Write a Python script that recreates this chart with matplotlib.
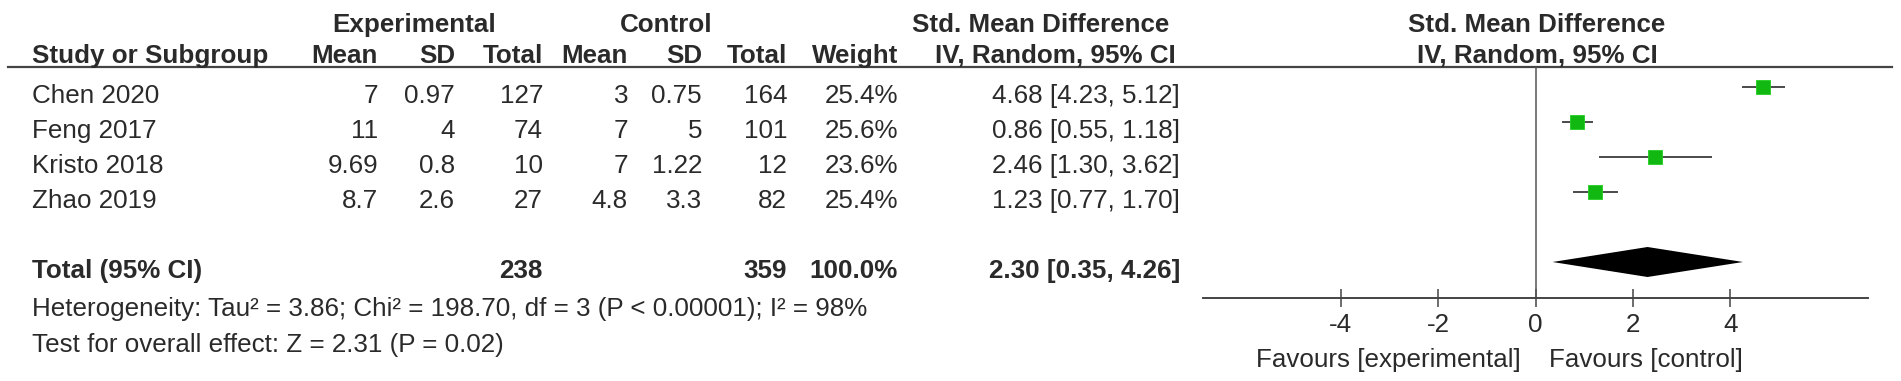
import matplotlib
matplotlib.use('Agg')
import matplotlib.pyplot as plt
import numpy as np

#%% data
studies = ['Chen 2020', 'Feng 2017', 'Kristo 2018', 'Zhao 2019']
exp_mean = [7, 11, 9.69, 8.7]
exp_sd = [0.97, 4, 0.8, 2.6]
exp_n = [127, 74, 10, 27]
ctrl_mean = [3, 7, 7, 4.8]
ctrl_sd = [0.75, 5, 1.22, 3.3]
ctrl_n = [164, 101, 12, 82]
weights = [25.4, 25.6, 23.6, 25.4]
smd = [4.68, 0.86, 2.46, 1.23]
ci_low = [4.23, 0.55, 1.30, 0.77]
ci_high = [5.12, 1.18, 3.62, 1.70]

total_exp_n = 238
total_ctrl_n = 359
total_weight = 100.0
total_smd = 2.30
total_low = 0.35
total_high = 4.26

heterogeneity = 'Heterogeneity: Tau² = 3.86; Chi² = 198.70, df = 3 (P < 0.00001); I² = 98%'
overall = 'Test for overall effect: Z = 2.31 (P = 0.02)'
xticks = [-4, -2, 0, 2, 4]


#%% style
plt.rcParams['font.family'] = ['Liberation Sans', 'DejaVu Sans']
txt_col = '#2a2a2a'
fs = 18.7
green = '#12b812'

W, H = 1901, 381
fig = plt.figure(figsize=(W / 100, H / 100), dpi=100)

# text layer in pixel units
ax_t = fig.add_axes([0, 0, 1, 1])
ax_t.set_xlim(0, W)
ax_t.set_ylim(H, 0)
ax_t.axis('off')

row0 = 87      # pixel y of first study row (marker centre)
row_h = 35     # row spacing
base_off = 16  # text baseline below marker centre
line_y = 67

def put(x, y, s, ha='right', bold=False):
    ax_t.text(x, y, s, ha=ha, va='baseline', fontsize=fs, color=txt_col,
              fontweight='bold' if bold else 'normal')

# header
put(414, 32, 'Experimental', ha='center', bold=True)
put(666, 32, 'Control', ha='center', bold=True)
put(1041, 32, 'Std. Mean Difference', ha='center', bold=True)
put(1537, 32, 'Std. Mean Difference', ha='center', bold=True)

cols = [378, 455, 543, 628, 702, 787, 898]
hdr = ['Mean', 'SD', 'Total', 'Mean', 'SD', 'Total', 'Weight']
put(32, 63, 'Study or Subgroup', ha='left', bold=True)
for x, h in zip(cols, hdr):
    put(x, 63, h, bold=True)
put(1055, 63, 'IV, Random, 95% CI', ha='center', bold=True)
put(1537, 63, 'IV, Random, 95% CI', ha='center', bold=True)

ax_t.plot([8, 1892], [line_y, line_y], color='#444444', lw=1.6)

# study rows
for i in range(len(studies)):
    y = row0 + i * row_h + base_off
    put(32, y, studies[i], ha='left')
    vals = ['{:g}'.format(exp_mean[i]), '{:g}'.format(exp_sd[i]), str(exp_n[i]),
            '{:g}'.format(ctrl_mean[i]), '{:g}'.format(ctrl_sd[i]), str(ctrl_n[i]),
            '{:.1f}%'.format(weights[i])]
    for x, v in zip(cols, vals):
        put(x, y, v)
    put(1180, y, '{:.2f} [{:.2f}, {:.2f}]'.format(smd[i], ci_low[i], ci_high[i]))

# total row
yt = row0 + 5 * row_h + base_off
put(32, yt, 'Total (95% CI)', ha='left', bold=True)
put(cols[2], yt, str(total_exp_n), bold=True)
put(cols[5], yt, str(total_ctrl_n), bold=True)
put(cols[6], yt, '{:.1f}%'.format(total_weight), bold=True)
put(1180, yt, '{:.2f} [{:.2f}, {:.2f}]'.format(total_smd, total_low, total_high), bold=True)

put(32, 316, heterogeneity, ha='left')
put(32, 352, overall, ha='left')

put(1521, 367, 'Favours [experimental]', ha='right')
put(1549, 367, 'Favours [control]', ha='left')


#%% forest panel
ax_left, ax_right = 1203, 1868
axis_y = 298
ax_f = fig.add_axes([ax_left / W, (H - axis_y) / H, (ax_right - ax_left) / W, (axis_y - line_y) / H])
ax_f.patch.set_alpha(0)
half = (ax_right - ax_left) / 2 / 48.7
ax_f.set_xlim(-half, half)
ax_f.set_ylim((axis_y - row0) / row_h, (line_y - row0) / row_h)

ax_f.axvline(0, color='#555555', lw=1.1)

rows = np.arange(len(studies))
ax_f.hlines(rows, ci_low, ci_high, color='#3c3c3c', lw=1.3)
ax_f.plot(smd, rows, 's', ms=10.5, color=green, mec='#1fcf1f', mew=0.6, ls='none')

# pooled diamond
yd = 5
hd = 15 / row_h
ax_f.fill([total_low, total_smd, total_high, total_smd],
          [yd, yd - hd, yd, yd + hd], color='black', lw=0)

for s in ['top', 'left', 'right']:
    ax_f.spines[s].set_visible(False)
ax_f.spines['bottom'].set_color('#444444')
ax_f.spines['bottom'].set_linewidth(1.4)
ax_f.set_yticks([])
ax_f.set_xticks(xticks)
ax_f.set_xticklabels([str(t) for t in xticks])
ax_f.tick_params(axis='x', direction='inout', length=13, width=1.1, color='#444444',
                 labelsize=fs, labelcolor=txt_col, pad=4)

fig.savefig('out.png', dpi=100)
